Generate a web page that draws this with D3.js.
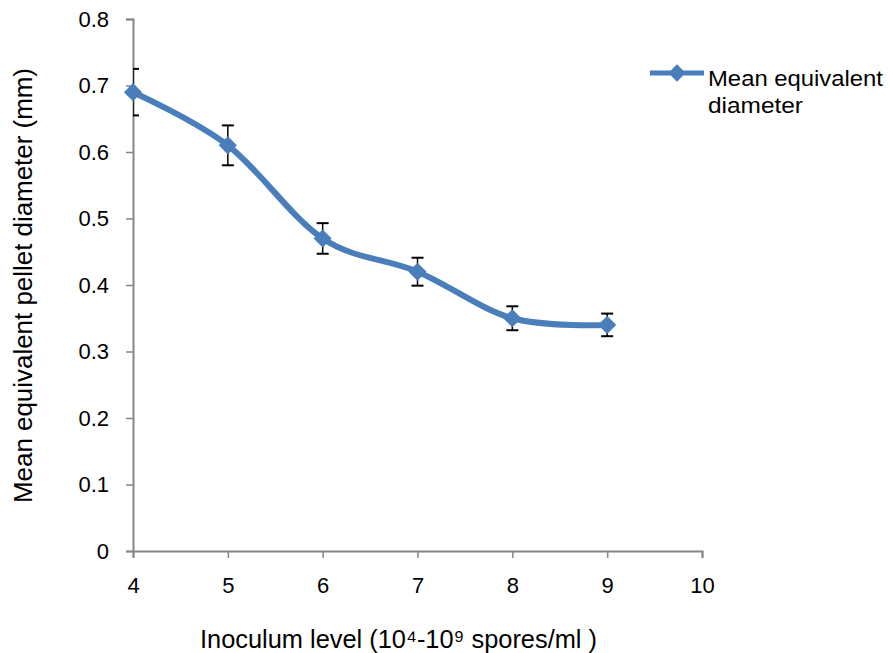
<!DOCTYPE html>
<html>
<head>
<meta charset="utf-8">
<script src="https://cdn.jsdelivr.net/npm/d3@7"></script>
<style>
  body { margin: 0; background: #fff; }
  text { font-family: "Liberation Sans", Arial, sans-serif; fill: #000; }
</style>
</head>
<body>
<div id="chart"></div>
<script>
// inoculum level (log10 spores/ml) vs mean pellet diameter
const levels = [4, 5, 6, 7, 8, 9]
const diameters = [0.69, 0.61, 0.47, 0.42, 0.35, 0.34]
const errors = [0.035, 0.03, 0.023, 0.021, 0.018, 0.017]
const xTicks = [4, 5, 6, 7, 8, 9, 10]
const yTicks = [0, 0.1, 0.2, 0.3, 0.4, 0.5, 0.6, 0.7, 0.8]

const data = levels.map((x, i) => ({ x: x, y: diameters[i], e: errors[i] }))

const W = 890, H = 653
const margin = { top: 19, right: 188, bottom: 102, left: 133 }
const width = W - margin.left - margin.right
const height = H - margin.top - margin.bottom
const blue = '#4a7ebb'
const axisCol = '#868686'

const svg = d3.select('#chart')
    .append('svg')
    .attr('width', W)
    .attr('height', H)

const g = svg.append('g')
    .attr('transform', `translate(${margin.left}, ${margin.top})`)

const x = d3.scaleLinear().domain([4, 10]).range([0, width])
const y = d3.scaleLinear().domain([0, 0.8]).range([height, 0])

// axes
const xAxis = g.append('g')
    .attr('transform', `translate(0, ${height})`)
    .call(d3.axisBottom(x).tickValues(xTicks).tickSize(7).tickPadding(19).tickFormat(d3.format('d')))
const yAxis = g.append('g')
    .call(d3.axisLeft(y).tickValues(yTicks).tickSize(7).tickPadding(17).tickFormat(d => d === 0 ? '0' : d3.format('.1f')(d)))

;[xAxis, yAxis].forEach(a => {
    a.attr('font-size', null).attr('font-family', null)
    a.select('.domain').attr('stroke', axisCol).attr('stroke-width', 2)
    a.selectAll('.tick line').attr('stroke', axisCol).attr('stroke-width', 1.5)
    a.selectAll('.tick text')
        .style('font-size', '22px')
        .attr('fill', '#000')
})

// clip to plot area so error bar caps at x=4 get cut by the axis
svg.append('clipPath').attr('id', 'plotClip')
    .append('rect')
    .attr('x', 0).attr('y', -10)
    .attr('width', width + 10).attr('height', height + 20)

const plot = g.append('g').attr('clip-path', 'url(#plotClip)')

// error bars
const cap = 6
const eb = plot.selectAll('.eb').data(data).enter().append('g').attr('class', 'eb')
eb.append('line')
    .attr('x1', d => x(d.x)).attr('x2', d => x(d.x))
    .attr('y1', d => y(d.y + d.e)).attr('y2', d => y(d.y - d.e))
    .attr('stroke', '#000').attr('stroke-width', 1.5)
eb.append('line')
    .attr('x1', d => x(d.x) - cap).attr('x2', d => x(d.x) + cap)
    .attr('y1', d => y(d.y + d.e)).attr('y2', d => y(d.y + d.e))
    .attr('stroke', '#000').attr('stroke-width', 2)
eb.append('line')
    .attr('x1', d => x(d.x) - cap).attr('x2', d => x(d.x) + cap)
    .attr('y1', d => y(d.y - d.e)).attr('y2', d => y(d.y - d.e))
    .attr('stroke', '#000').attr('stroke-width', 2)

// smoothed line
g.append('path')
    .datum(data)
    .attr('fill', 'none')
    .attr('stroke', blue)
    .attr('stroke-width', 6)
    .attr('d', d3.line()
        .x(d => x(d.x))
        .y(d => y(d.y))
        .curve(d3.curveCatmullRom.alpha(0)))

const diamond = d3.symbol().type(d3.symbolDiamond2).size(210)
g.selectAll('.pt').data(data).enter().append('path')
    .attr('class', 'pt')
    .attr('d', diamond)
    .attr('transform', d => `translate(${x(d.x)}, ${y(d.y)})`)
    .attr('fill', blue)

// axis titles
svg.append('text')
    .attr('x', 200)
    .attr('y', 648)
    .style('font-size', '26px')
    .attr('textLength', 397)
    .attr('lengthAdjust', 'spacingAndGlyphs')
    .text('Inoculum level (10\u2074-10\u2079 spores/ml )')

svg.append('text')
    .attr('transform', `translate(32, 503) rotate(-90)`)
    .style('font-size', '26px')
    .attr('textLength', 435)
    .attr('lengthAdjust', 'spacingAndGlyphs')
    .text('Mean equivalent pellet diameter (mm)')

// legend
const lg = svg.append('g').attr('transform', 'translate(650, 73)')
lg.append('line')
    .attr('x1', 0).attr('x2', 54).attr('y1', 0).attr('y2', 0)
    .attr('stroke', blue).attr('stroke-width', 5)
lg.append('path')
    .attr('d', d3.symbol().type(d3.symbolDiamond2).size(190))
    .attr('transform', 'translate(27, 0)')
    .attr('fill', blue)
lg.append('text').attr('x', 58).attr('y', 13).style('font-size', '22px')
    .attr('textLength', 175).attr('lengthAdjust', 'spacingAndGlyphs')
    .text('Mean equivalent')
lg.append('text').attr('x', 58).attr('y', 40).style('font-size', '22px')
    .attr('textLength', 95).attr('lengthAdjust', 'spacingAndGlyphs')
    .text('diameter')
</script>
</body>
</html>
